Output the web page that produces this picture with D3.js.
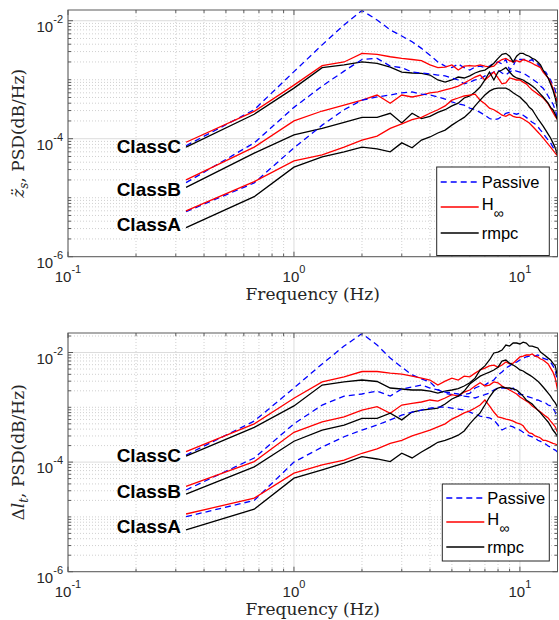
<!DOCTYPE html>
<html lang="en">
<head>
<meta charset="UTF-8">
<title>PSD comparison</title>
<script src="https://cdnjs.cloudflare.com/ajax/libs/d3/7.8.5/d3.min.js"></script>
<style>
  body { margin: 0; background: #fff; }
  svg { display: block; }
  .tick-label { font-family: "Liberation Sans", Arial, sans-serif; font-size: 15px; fill: #262626; }
  .axis-title { font-family: "DejaVu Serif", "Liberation Serif", serif; font-size: 17px; fill: #262626; }
  .class-label { font-family: "Liberation Sans", Arial, sans-serif; font-size: 19px; font-weight: bold; fill: #000; }
  .legend-label { font-family: "Liberation Sans", Arial, sans-serif; font-size: 16.5px; fill: #000; }
</style>
</head>
<body>
<svg id="chart" width="559" height="620"></svg>
<script>
// frequency points (Hz)
var freqHz = [0.333, 0.667, 1.0, 1.333, 1.667, 2.0, 2.333, 2.667, 3.0, 3.333, 3.667,
              4.0, 4.333, 4.667, 5.0, 5.333, 5.667, 6.0, 6.333, 6.667, 7.0, 7.333,
              7.667, 8.0, 8.333, 8.667, 9.0, 9.333, 9.667, 10.0, 10.333, 10.667, 11.0,
              11.333, 11.667, 12.0, 12.333, 12.667, 13.0, 13.333, 13.667, 14.0, 14.333, 14.667];

var xTickVals = [0.1, 1, 10];
var xTickExp = ["-1", "0", "1"];
var yTickVals = [1e-6, 1e-4, 1e-2];
var yTickExp = ["-6", "-4", "-2"];
var classNames = ["ClassC", "ClassB", "ClassA"];
var legendNames = ["Passive", "H", "rmpc"];

// top panel: body acceleration PSD
var accPassiveC = [7.6e-5,3.1e-4,1.37e-3,3.9e-3,8.5e-3,1.49e-2,1.03e-2,7.0e-3,5.5e-3,4.4e-3,3.4e-3,2.6e-3,2.0e-3,1.7e-3,1.6e-3,1.85e-3,1.6e-3,1.46e-3,1.64e-3,1.7e-3,1.6e-3,1.7e-3,1.9e-3,2.0e-3,1.85e-3,2.2e-3,1.46e-3,1.7e-3,2.3e-3,2.2e-3,2.2e-3,2.2e-3,2.1e-3,2.2e-3,1.9e-3,1.85e-3,1.64e-3,1.4e-3,1.35e-3,1.16e-3,9.9e-4,8.1e-4,6.7e-4,4.0e-4];
var accHinfC = [8.7e-5,2.9e-4,8.1e-4,1.73e-3,2.0e-3,2.8e-3,2.7e-3,2.45e-3,2.3e-3,2.2e-3,2.1e-3,1.78e-3,1.6e-3,1.64e-3,1.78e-3,1.46e-3,1.7e-3,1.74e-3,1.7e-3,1.78e-3,1.7e-3,1.64e-3,1.7e-3,2.0e-3,2.2e-3,2.3e-3,2.1e-3,2.0e-3,2.1e-3,2.0e-3,2.2e-3,2.1e-3,2.0e-3,1.9e-3,1.78e-3,1.7e-3,1.6e-3,1.35e-3,1.2e-3,1.07e-3,9.1e-4,7.2e-4,5.5e-4,4.0e-4];
var accRmpcC = [7.2e-5,2.6e-4,7.2e-4,1.6e-3,1.78e-3,2.0e-3,1.9e-3,1.64e-3,1.35e-3,1.3e-3,1.28e-3,1.2e-3,9.9e-4,9.1e-4,9.9e-4,1.11e-3,1.07e-3,1.16e-3,1.3e-3,1.4e-3,1.46e-3,1.64e-3,1.9e-3,2.3e-3,2.7e-3,2.8e-3,2.5e-3,2.0e-3,2.5e-3,2.8e-3,2.8e-3,2.6e-3,2.5e-3,2.3e-3,2.2e-3,2.0e-3,1.78e-3,1.46e-3,1.25e-3,1.07e-3,8.5e-4,6.7e-4,4.9e-4,3.1e-4];
var accPassiveB = [1.8e-5,8.5e-5,3.4e-4,7.8e-4,1.4e-3,2.2e-3,2.3e-3,1.7e-3,1.6e-3,1.35e-3,1.3e-3,1.25e-3,1.2e-3,1.16e-3,1.07e-3,9.9e-4,8.5e-4,9.1e-4,9.9e-4,1.03e-3,1.16e-3,1.25e-3,1.35e-3,1.46e-3,1.3e-3,1.2e-3,1.35e-3,1.46e-3,1.4e-3,1.35e-3,1.3e-3,1.2e-3,1.11e-3,1.03e-3,9.5e-4,8.8e-4,7.8e-4,7.2e-4,6.2e-4,5.3e-4,4.5e-4,3.9e-4,3.1e-4,2.2e-4];
var accHinfB = [2.0e-5,7.2e-5,2.0e-4,2.95e-4,3.7e-4,4.5e-4,5.5e-4,4.0e-4,5.5e-4,5.1e-4,5.5e-4,6.0e-4,6.2e-4,6.7e-4,7.2e-4,7.8e-4,8.8e-4,9.9e-4,1.11e-3,1.2e-3,9.9e-4,1.16e-3,1.35e-3,1.07e-3,8.5e-4,8.8e-4,1.07e-3,1.03e-3,9.9e-4,9.9e-4,9.1e-4,8.5e-4,7.5e-4,6.7e-4,6.2e-4,5.7e-4,5.3e-4,4.9e-4,4.4e-4,3.9e-4,3.3e-4,2.8e-4,2.4e-4,2.1e-4];
var accRmpcB = [1.5e-5,5.7e-5,1.16e-4,1.5e-4,1.9e-4,2.3e-4,2.3e-4,2.7e-4,1.85e-4,2.7e-4,2.2e-4,2.4e-4,2.8e-4,3.1e-4,3.6e-4,4.0e-4,4.9e-4,5.3e-4,6.2e-4,7.5e-4,9.9e-4,1.35e-3,9.9e-4,1.35e-3,1.46e-3,1.6e-3,1.35e-3,1.16e-3,1.07e-3,1.03e-3,9.9e-4,9.1e-4,8.5e-4,7.8e-4,7.2e-4,6.4e-4,5.7e-4,5.1e-4,4.5e-4,4.0e-4,3.4e-4,3.1e-4,2.6e-4,2.1e-4];
var accPassiveA = [5.8e-6,1.78e-5,7.0e-5,1.7e-4,3.1e-4,4.5e-4,5.1e-4,5.5e-4,6.0e-4,6.2e-4,5.7e-4,5.5e-4,5.1e-4,4.7e-4,4.2e-4,3.9e-4,3.7e-4,3.3e-4,3.1e-4,2.8e-4,2.5e-4,2.2e-4,2.1e-4,2.16e-4,2.4e-4,2.7e-4,2.8e-4,2.7e-4,2.6e-4,2.7e-4,2.5e-4,2.3e-4,2.1e-4,1.9e-4,1.78e-4,1.6e-4,1.4e-4,1.25e-4,1.07e-4,9.5e-5,8.5e-5,7.2e-5,6.4e-5,6.0e-5];
var accHinfA = [6.0e-6,1.87e-5,4.2e-5,5.3e-5,7.2e-5,9.5e-5,1.11e-4,1.5e-4,1.78e-4,2.1e-4,2.3e-4,2.7e-4,3.1e-4,3.6e-4,4.5e-4,4.9e-4,5.3e-4,5.5e-4,5.7e-4,4.5e-4,3.9e-4,3.3e-4,3.1e-4,2.8e-4,2.5e-4,2.4e-4,2.6e-4,2.4e-4,2.3e-4,2.3e-4,2.16e-4,2.0e-4,1.85e-4,1.64e-4,1.46e-4,1.3e-4,1.16e-4,1.03e-4,9.1e-5,8.1e-5,7.2e-5,6.4e-5,5.7e-5,5.1e-5];
var accRmpcA = [3.1e-6,1.04e-5,3.3e-5,4.9e-5,6.0e-5,7.2e-5,6.7e-5,6.0e-5,8.5e-5,7.0e-5,9.5e-5,1.07e-4,1.25e-4,1.4e-4,1.7e-4,2.0e-4,2.3e-4,2.8e-4,3.6e-4,4.5e-4,5.5e-4,6.4e-4,7.0e-4,7.2e-4,7.2e-4,7.2e-4,6.7e-4,6.0e-4,5.5e-4,5.1e-4,4.5e-4,4.0e-4,3.4e-4,3.1e-4,2.6e-4,2.2e-4,1.9e-4,1.64e-4,1.4e-4,1.2e-4,1.03e-4,8.5e-5,7.0e-5,5.3e-5];
var accLabelLevel = [7.5e-5, 1.4e-5, 3.6e-6];

// bottom panel: tyre deflection PSD
var defPassiveC = [1.35e-4,5.6e-4,2.25e-3,6.2e-3,1.31e-2,2.22e-2,1.37e-2,7.9e-3,5.4e-3,3.9e-3,3.3e-3,2.9e-3,2.1e-3,1.8e-3,1.7e-3,1.6e-3,1.7e-3,1.8e-3,2.25e-3,2.45e-3,2.55e-3,2.9e-3,3.15e-3,3.9e-3,4.4e-3,5.2e-3,5.7e-3,6.4e-3,6.7e-3,7.3e-3,7.9e-3,8.3e-3,8.6e-3,9.0e-3,8.6e-3,9.0e-3,8.6e-3,7.9e-3,7.6e-3,7.3e-3,6.7e-3,5.7e-3,4.8e-3,2.9e-3];
var defHinfC = [1.55e-4,5.0e-4,1.46e-3,2.9e-3,3.6e-3,4.5e-3,4.5e-3,4.2e-3,4.05e-3,3.7e-3,3.4e-3,3.15e-3,2.55e-3,3.0e-3,3.4e-3,3.15e-3,3.7e-3,3.6e-3,4.2e-3,4.8e-3,5.2e-3,5.7e-3,5.9e-3,5.4e-3,5.9e-3,6.7e-3,6.2e-3,6.4e-3,7.3e-3,8.3e-3,8.6e-3,9.0e-3,9.0e-3,9.4e-3,8.6e-3,8.3e-3,7.6e-3,7.3e-3,6.7e-3,6.2e-3,5.2e-3,4.4e-3,3.4e-3,2.1e-3];
var defRmpcC = [1.29e-4,4.3e-4,1.06e-3,2.55e-3,2.9e-3,3.15e-3,2.96e-3,2.25e-3,2.16e-3,2.07e-3,2.07e-3,1.98e-3,1.82e-3,1.98e-3,2.07e-3,2.2e-3,2.45e-3,2.8e-3,3.4e-3,4.8e-3,5.7e-3,7.3e-3,9.8e-3,1.02e-2,1.11e-2,1.37e-2,1.31e-2,1.49e-2,1.49e-2,1.43e-2,1.55e-2,1.49e-2,1.31e-2,1.31e-2,1.26e-2,1.21e-2,1.02e-2,9.4e-3,8.6e-3,7.9e-3,7.3e-3,6.4e-3,5.7e-3,3.6e-3];
var defPassiveB = [3.1e-5,1.19e-4,5.0e-4,1.1e-3,1.6e-3,1.75e-3,1.98e-3,1.6e-3,2.16e-3,2.35e-3,2.55e-3,2.25e-3,2.07e-3,1.9e-3,1.82e-3,1.75e-3,1.6e-3,1.54e-3,1.48e-3,1.6e-3,1.7e-3,1.82e-3,2.07e-3,2.25e-3,2.25e-3,2.25e-3,2.07e-3,2.25e-3,1.9e-3,1.7e-3,1.7e-3,1.6e-3,1.54e-3,1.48e-3,1.36e-3,1.36e-3,1.3e-3,1.25e-3,1.2e-3,1.1e-3,1.06e-3,9.7e-4,8.2e-4,5.9e-4];
var defHinfB = [3.6e-5,1.02e-4,3.5e-4,5.4e-4,6.7e-4,8.9e-4,1.03e-3,7.8e-4,1.1e-3,1.18e-3,1.25e-3,1.36e-3,1.3e-3,1.48e-3,1.7e-3,1.6e-3,1.9e-3,2.07e-3,2.45e-3,2.8e-3,2.45e-3,2.55e-3,2.9e-3,2.8e-3,2.45e-3,2.25e-3,2.07e-3,1.9e-3,1.75e-3,1.54e-3,1.42e-3,1.3e-3,1.2e-3,1.06e-3,9.7e-4,8.9e-4,8.2e-4,7.5e-4,6.9e-4,6.4e-4,5.6e-4,5.0e-4,4.4e-4,3.5e-4];
var defRmpcB = [2.6e-5,8.2e-5,2.4e-4,3.85e-4,4.75e-4,6.3e-4,6.3e-4,7.8e-4,5.9e-4,8.2e-4,8.9e-4,9.3e-4,9.7e-4,1.15e-3,1.42e-3,1.6e-3,1.98e-3,2.66e-3,3.15e-3,3.7e-3,4.05e-3,4.4e-3,4.8e-3,5.4e-3,7.0e-3,7.3e-3,6.4e-3,5.9e-3,5.4e-3,4.8e-3,4.6e-3,4.2e-3,3.9e-3,3.6e-3,3.3e-3,3.0e-3,2.66e-3,2.35e-3,2.07e-3,1.82e-3,1.6e-3,1.36e-3,1.2e-3,1.01e-3];
var defPassiveA = [1.01e-5,2.0e-5,1.0e-4,1.88e-4,2.9e-4,3.85e-4,4.75e-4,5.9e-4,7.2e-4,8.2e-4,8.9e-4,9.7e-4,1.01e-3,1.01e-3,9.7e-4,9.3e-4,8.9e-4,8.2e-4,7.5e-4,6.9e-4,6.65e-4,6.4e-4,5.9e-4,4.75e-4,3.85e-4,4.2e-4,4.6e-4,4.4e-4,4.0e-4,3.85e-4,3.5e-4,3.3e-4,3.0e-4,2.9e-4,2.76e-4,2.5e-4,2.4e-4,2.2e-4,2.14e-4,1.97e-4,1.88e-4,1.74e-4,1.66e-4,1.53e-4];
var defHinfA = [1.13e-5,2.2e-5,6.3e-5,8.9e-5,1.09e-4,1.45e-4,1.74e-4,2.2e-4,2.5e-4,3.0e-4,3.4e-4,3.85e-4,4.4e-4,5.0e-4,6.1e-4,6.9e-4,7.9e-4,8.6e-4,9.7e-4,1.1e-3,1.36e-3,1.06e-3,8.2e-4,6.7e-4,6.4e-4,6.1e-4,5.9e-4,5.6e-4,5.2e-4,5.0e-4,4.6e-4,3.85e-4,3.4e-4,3.3e-4,3.0e-4,2.9e-4,2.76e-4,2.5e-4,2.5e-4,2.4e-4,2.3e-4,2.2e-4,2.14e-4,2.05e-4];
var defRmpcA = [5.8e-6,1.38e-5,5.1e-5,7.2e-5,9.6e-5,1.26e-4,1.14e-4,1.02e-4,1.45e-4,1.19e-4,1.53e-4,1.88e-4,2.3e-4,2.5e-4,2.76e-4,3.1e-4,3.7e-4,5.0e-4,6.4e-4,7.9e-4,1.1e-3,1.54e-3,1.98e-3,2.25e-3,2.35e-3,2.25e-3,2.25e-3,2.16e-3,2.07e-3,1.82e-3,1.6e-3,1.36e-3,1.25e-3,1.15e-3,1.01e-3,8.9e-4,7.9e-4,6.9e-4,6.1e-4,5.4e-4,4.6e-4,3.85e-4,3.4e-4,2.9e-4];
var defLabelLevel = [1.35e-4, 2.9e-5, 6.6e-6];

var styles = {
    passive: {color: "#0000ff", dash: "6,4"},
    hinf: {color: "#ff0000", dash: null},
    rmpc: {color: "#000000", dash: null}
};

var svg = d3.select("#chart");
var X0 = 68, X1 = 557.5;

var panels = [
    {
        id: "acc", top: 10, bottom: 256.7, yMax: 1.52e-2,
        groups: [[accPassiveC, accHinfC, accRmpcC], [accPassiveB, accHinfB, accRmpcB], [accPassiveA, accHinfA, accRmpcA]],
        labelLevels: accLabelLevel,
        ylabel: "acc",
        legend: {x0: 436.7, x1: 549.3, y0: 167, y1: 255.5, rows: [182, 207, 233]}
    },
    {
        id: "def", top: 333, bottom: 571.7, yMax: 2.27e-2,
        groups: [[defPassiveC, defHinfC, defRmpcC], [defPassiveB, defHinfB, defRmpcB], [defPassiveA, defHinfA, defRmpcA]],
        labelLevels: defLabelLevel,
        ylabel: "def",
        legend: {x0: 442.3, x1: 549.3, y0: 484, y1: 561, rows: [498, 522, 547]}
    }
];

var kinds = ["passive", "hinf", "rmpc"];

function addPower(text, exp) {
    text.append("tspan").text("10");
    text.append("tspan").attr("dy", -9).attr("font-size", 11).text(exp);
}

function drawPanel(p) {
    var x = d3.scaleLog().domain([0.1, 14.667]).range([X0, X1]);
    var y = d3.scaleLog().domain([1e-6, p.yMax]).range([p.bottom, p.top]);

    var xMinor = x.ticks().filter(function(t) { return xTickVals.indexOf(+t.toPrecision(6)) < 0; });
    var yMinor = y.ticks().filter(function(t) { return yTickVals.indexOf(+t.toPrecision(6)) < 0; });

    var grid = svg.append("g");
    // minor grid (dotted)
    grid.selectAll(".gxm").data(xMinor).enter().append("line")
        .attr("x1", function(d) { return x(d); }).attr("x2", function(d) { return x(d); })
        .attr("y1", p.top).attr("y2", p.bottom)
        .attr("stroke", "#c4c4c4").attr("stroke-width", 0.8).attr("stroke-dasharray", "1,2");
    grid.selectAll(".gym").data(yMinor).enter().append("line")
        .attr("x1", X0).attr("x2", X1)
        .attr("y1", function(d) { return y(d); }).attr("y2", function(d) { return y(d); })
        .attr("stroke", "#c4c4c4").attr("stroke-width", 0.8).attr("stroke-dasharray", "1,2");
    // major grid
    grid.selectAll(".gx").data(xTickVals).enter().append("line")
        .attr("x1", function(d) { return x(d); }).attr("x2", function(d) { return x(d); })
        .attr("y1", p.top).attr("y2", p.bottom)
        .attr("stroke", "#dcdcdc").attr("stroke-width", 1);
    grid.selectAll(".gy").data(yTickVals).enter().append("line")
        .attr("x1", X0).attr("x2", X1)
        .attr("y1", function(d) { return y(d); }).attr("y2", function(d) { return y(d); })
        .attr("stroke", "#dcdcdc").attr("stroke-width", 1);

    // series
    svg.append("clipPath").attr("id", "clip-" + p.id).append("rect")
        .attr("x", X0).attr("y", p.top).attr("width", X1 - X0).attr("height", p.bottom - p.top);

    var line = d3.line()
        .x(function(d, i) { return x(freqHz[i]); })
        .y(function(d) { return y(d); });

    var plot = svg.append("g").attr("clip-path", "url(#clip-" + p.id + ")");
    p.groups.forEach(function(group) {
        group.forEach(function(values, j) {
            var st = styles[kinds[j]];
            plot.append("path")
                .attr("d", line(values))
                .attr("fill", "none")
                .attr("stroke", st.color)
                .attr("stroke-width", 1.3)
                .attr("stroke-dasharray", st.dash);
        });
    });

    // axes box and ticks
    var ax = svg.append("g").attr("stroke", "#5a5a5a").attr("fill", "none");
    ax.append("rect").attr("x", X0).attr("y", p.top).attr("width", X1 - X0).attr("height", p.bottom - p.top)
        .attr("stroke-width", 1);
    function xTick(d, len) {
        ax.append("line").attr("x1", x(d)).attr("x2", x(d)).attr("y1", p.bottom).attr("y2", p.bottom - len);
        ax.append("line").attr("x1", x(d)).attr("x2", x(d)).attr("y1", p.top).attr("y2", p.top + len);
    }
    function yTick(d, len) {
        ax.append("line").attr("x1", X0).attr("x2", X0 + len).attr("y1", y(d)).attr("y2", y(d));
        ax.append("line").attr("x1", X1).attr("x2", X1 - len).attr("y1", y(d)).attr("y2", y(d));
    }
    xMinor.forEach(function(d) { xTick(d, 3); });
    xTickVals.forEach(function(d) { xTick(d, 5); });
    yMinor.forEach(function(d) { yTick(d, 3); });
    yTickVals.forEach(function(d) { yTick(d, 5); });

    // tick labels
    xTickVals.forEach(function(d, i) {
        var t = svg.append("text").attr("class", "tick-label")
            .attr("x", x(d)).attr("y", p.bottom + 25).attr("text-anchor", "middle");
        addPower(t, xTickExp[i]);
    });
    yTickVals.forEach(function(d, i) {
        var t = svg.append("text").attr("class", "tick-label")
            .attr("x", X0 - 5).attr("y", y(d) + 11).attr("text-anchor", "end");
        addPower(t, yTickExp[i]);
    });

    // axis titles
    svg.append("text").attr("class", "axis-title")
        .attr("x", (X0 + X1) / 2).attr("y", p.bottom + 43).attr("text-anchor", "middle")
        .text("Frequency (Hz)");

    var yl = svg.append("text").attr("class", "axis-title")
        .attr("text-anchor", "middle")
        .attr("transform", "translate(24," + ((p.top + p.bottom) / 2) + ") rotate(-90)");
    if (p.ylabel === "acc") {
        yl.append("tspan").attr("font-style", "italic").text("z\u0308");
        yl.append("tspan").attr("font-style", "italic").attr("font-size", 12).attr("dy", 4).text("s");
        yl.append("tspan").attr("dy", -4).text(", PSD(dB/Hz)");
    } else {
        yl.append("tspan").text("\u0394");
        yl.append("tspan").attr("font-style", "italic").text("l");
        yl.append("tspan").attr("font-style", "italic").attr("font-size", 12).attr("dy", 4).text("t");
        yl.append("tspan").attr("dy", -4).text(", PSD(dB/Hz)");
    }

    // class labels
    classNames.forEach(function(name, i) {
        svg.append("text").attr("class", "class-label")
            .attr("x", x(freqHz[0]) - 5).attr("y", y(p.labelLevels[i]))
            .attr("dy", "0.35em").attr("text-anchor", "end")
            .text(name);
    });

    // legend
    var lg = p.legend;
    svg.append("rect").attr("x", lg.x0).attr("y", lg.y0)
        .attr("width", lg.x1 - lg.x0).attr("height", lg.y1 - lg.y0)
        .attr("fill", "#fff").attr("stroke", "#262626").attr("stroke-width", 1);
    kinds.forEach(function(k, i) {
        var st = styles[k];
        var ry = lg.rows[i];
        svg.append("line").attr("x1", lg.x0 + 4).attr("x2", lg.x0 + 42)
            .attr("y1", ry).attr("y2", ry)
            .attr("stroke", st.color).attr("stroke-width", 1.3).attr("stroke-dasharray", st.dash);
        var t = svg.append("text").attr("class", "legend-label")
            .attr("x", lg.x0 + 45).attr("y", ry).attr("dy", "0.2em");
        if (k === "hinf") {
            t.append("tspan").text(legendNames[i]);
            t.append("tspan").attr("dy", 8).attr("font-size", 14).text("\u221e");
        } else {
            t.attr("dy", "0.35em").text(legendNames[i]);
        }
    });
}

panels.forEach(drawPanel);
</script>
</body>
</html>
